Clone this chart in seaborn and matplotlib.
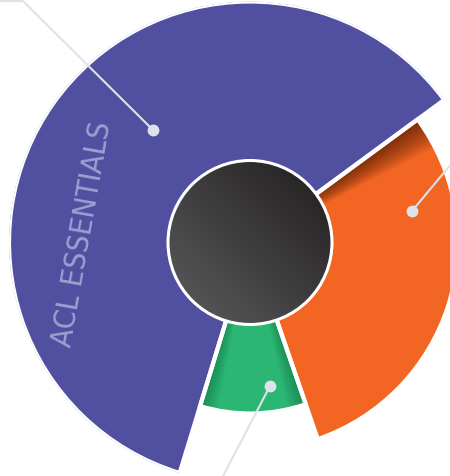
import numpy as np
import matplotlib
matplotlib.use('Agg')
import matplotlib.pyplot as plt
from matplotlib.patches import Circle
from matplotlib.colors import to_rgb
import seaborn as sns

# ------------------------
# Data
# ------------------------
segments = ['ACL ESSENTIALS', 'green segment', 'orange segment']
shares = [60.2, 10.0, 29.8]          # share of the full circle (%)
radii = [241, 171, 208]              # outer radius of each wedge
seg_colors = ['#5150a0', '#2bb673', '#f26522']
label_text = 'ACL ESSENTIALS'

start_deg = 36.3                     # where the first wedge starts
hub_radius = 82

# ------------------------
# Style
# ------------------------
sns.set_style('white')
plt.rcParams['font.family'] = ['DejaVu Sans']
palette = sns.color_palette(seg_colors)

W, H = 450, 476
fig = plt.figure(figsize=(W / 100, H / 100), dpi=100)
fig.patch.set_facecolor('white')

cx, cy = 250, 242.5
rmax = 241
ax = fig.add_axes([(cx - rmax) / W, (H - cy - rmax) / H,
                   2 * rmax / W, 2 * rmax / H], projection='polar')
ax.set_theta_offset(np.deg2rad(start_deg))
ax.set_ylim(0, rmax)
ax.grid(False)
ax.set_xticks([])
ax.set_yticks([])
ax.spines['polar'].set_visible(False)
ax.patch.set_alpha(0)

widths = np.deg2rad(np.array(shares) / 100 * 360)
starts = np.concatenate([[0], np.cumsum(widths)[:-1]])

# main wedges
ax.bar(starts, radii, width=widths, bottom=0, align='edge',
       color=palette, edgecolor='none', linewidth=0)

# shadow on the orange wedge next to the purple one
n = 24
a = 1 - 0.42 ** (1 / n)
o_end = starts[2] + widths[2]
for k in range(1, n + 1):
    w = np.deg2rad(9.0) * k / n
    ax.bar(o_end - w, radii[2], width=w, bottom=0, align='edge',
           color='#3a1402', alpha=a, linewidth=0)

# darker sides on the green wedge
n = 14
a = 1 - 0.6 ** (1 / n)
for k in range(1, n + 1):
    w = np.deg2rad(6.0) * k / n
    ax.bar(starts[1], radii[1], width=w, bottom=0, align='edge',
           color='#0b5a34', alpha=a, linewidth=0)
    ax.bar(starts[1] + widths[1] - w, radii[1], width=w, bottom=0,
           align='edge', color='#0b5a34', alpha=a, linewidth=0)

# white separators
ax.bar(starts, radii, width=widths, bottom=0, align='edge',
       facecolor='none', edgecolor='white', linewidth=3)

# ------------------------
# Overlay: hub, label, leader lines
# ------------------------
ov = fig.add_axes([0, 0, 1, 1])
ov.patch.set_alpha(0)
ov.axis('off')

# hub gradient (dark top-right -> lighter bottom-left)
gx, gy = np.meshgrid(np.linspace(0, 1, 200), np.linspace(0, 1, 200))
s = (gx + (1 - gy)) / 2
c_light = np.array(to_rgb('#5c5d5f'))
c_dark = np.array(to_rgb('#201c1d'))
img = c_light[None, None, :] * (1 - s[..., None]) + c_dark[None, None, :] * s[..., None]
im = ov.imshow(img, extent=(cx - hub_radius, cx + hub_radius,
                            cy + hub_radius, cy - hub_radius),
               origin='upper', aspect='auto', zorder=3)
clip = Circle((cx, cy), hub_radius, transform=ov.transData)
im.set_clip_path(clip)
ov.add_patch(Circle((cx, cy), hub_radius, facecolor='none',
                    edgecolor='white', linewidth=2.2, zorder=4))

ov.text(82, 234, label_text, rotation=80, ha='center', va='center',
        fontsize=22, fontstretch='condensed', color='#a09dd3', zorder=5)

lead_color = '#dde3e9'
leaders = [
    # (points of the leader line, index of the point carrying the dot)
    ([(0, 1), (23, 1), (153, 130)], -1),
    ([(412, 211), (452, 163)], 0),
    ([(270, 386), (222, 478)], 0),
]
for pts, dot in leaders:
    xs, ys = zip(*pts)
    ov.plot(xs, ys, color=lead_color, linewidth=1.5, zorder=6,
            solid_capstyle='butt', clip_on=False)
    ov.plot(xs[dot], ys[dot], marker='o', markersize=7.5,
            color=lead_color, zorder=7)

ov.set_xlim(0, W)
ov.set_ylim(H, 0)

fig.savefig('out.png', dpi=100, facecolor='white')
plt.close('all')
